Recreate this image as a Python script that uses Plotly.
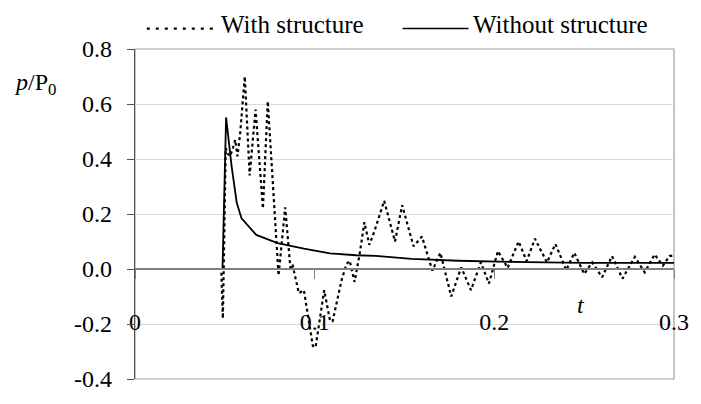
import plotly.graph_objects as go

# Pressure history p/P0 versus time t
t_with = [0.0, 0.048, 0.0489, 0.0505, 0.0515, 0.053, 0.0545, 0.0558, 0.057, 0.0585,
          0.0611, 0.0638, 0.0671, 0.0712, 0.0739, 0.0799, 0.0836, 0.0866, 0.0876,
          0.0912, 0.094, 0.099, 0.1005, 0.1053, 0.1086, 0.110, 0.115, 0.1177, 0.1195,
          0.1222, 0.125, 0.1277, 0.1304, 0.1332, 0.1387, 0.1447, 0.1487, 0.155, 0.1597,
          0.1655, 0.170, 0.176, 0.1816, 0.187, 0.1925, 0.197, 0.202, 0.2074, 0.2135,
          0.218, 0.2226, 0.2293, 0.234, 0.240, 0.2445, 0.250, 0.2545, 0.260, 0.2655,
          0.2713, 0.2782, 0.2837, 0.2892, 0.2938, 0.2975, 0.300]
p_with = [0.0, 0.0, -0.18, 0.44, 0.42, 0.41, 0.44, 0.47, 0.41, 0.49,
          0.70, 0.34, 0.58, 0.22, 0.61, -0.024, 0.224, -0.006, 0.018,
          -0.088, -0.077, -0.28, -0.285, -0.077, -0.19, -0.19, -0.04, 0.018, 0.03,
          -0.047, 0.053, 0.17, 0.088, 0.136, 0.248, 0.10, 0.232, 0.083, 0.118,
          -0.006, 0.059, -0.10, 0.006, -0.077, 0.024, -0.053, 0.065, 0.004, 0.10,
          0.029, 0.11, 0.024, 0.091, -0.004, 0.059, -0.018, 0.024, -0.03, 0.047,
          -0.035, 0.044, -0.012, 0.053, 0.012, 0.047, 0.05]

t_without = [0.0, 0.0487, 0.0507, 0.0538, 0.0566, 0.0593, 0.0675, 0.0794, 0.094,
             0.1085, 0.123, 0.134, 0.154, 0.18, 0.218, 0.25, 0.30]
p_without = [0.0, 0.0, 0.551, 0.372, 0.242, 0.184, 0.124, 0.094, 0.074,
             0.057, 0.050, 0.048, 0.037, 0.030, 0.025, 0.022, 0.022]

y_ticks = [-0.4, -0.2, 0.0, 0.2, 0.4, 0.6, 0.8]
y_tick_text = ["-0.4", "-0.2", "0.0", "0.2", "0.4", "0.6", "0.8"]
x_ticks = [0.0, 0.1, 0.2, 0.3]
x_tick_text = ["0", "0.1", "0.2", "0.3"]

names = ["With structure", "Without structure"]

FONT = "'Liberation Serif', Tinos, 'DejaVu Serif', 'Noto Serif', FreeSerif, serif"

fig = go.Figure()
fig.add_trace(go.Scatter(x=t_without, y=p_without, mode="lines", name=names[1],
                         line=dict(color="black", width=1.8), showlegend=False))
fig.add_trace(go.Scatter(x=t_with, y=p_with, mode="lines", name=names[0],
                         line=dict(color="black", width=2.2, dash="3px,3px"),
                         showlegend=False))

y_min, y_max = -0.4, 0.8
fig.update_layout(
    width=701, height=404,
    margin=dict(l=135, r=18, t=49, b=16),
    paper_bgcolor="white", plot_bgcolor="white",
    font=dict(family=FONT, size=24, color="black"),
    xaxis=dict(range=[0, 0.3], tickvals=x_ticks, ticktext=x_tick_text,
               anchor="free", position=(0 - y_min) / (y_max - y_min),
               showline=True, linecolor="#808080", linewidth=1.5,
               ticks="outside", ticklen=9, tickcolor="#808080",
               tickfont=dict(family=FONT, size=24),
               showgrid=False, zeroline=False, ticklabelstandoff=22),
    yaxis=dict(range=[y_min, y_max], tickvals=y_ticks, ticktext=y_tick_text,
               showline=True, linecolor="#505050", linewidth=1.2,
               ticks="outside", ticklen=7, tickcolor="#505050",
               tickfont=dict(family=FONT, size=24), ticklabelstandoff=10,
               showgrid=True, gridcolor="#d9d9d9", gridwidth=1,
               zeroline=False),
)

# plot-area frame
fig.add_shape(type="rect", xref="x domain", yref="y domain", x0=0, x1=1, y0=0, y1=1,
              line=dict(color="#a0a0a0", width=1.2), layer="below")

# legend drawn across the top
leg_y = 1.0 + (49 - 24) / 339
fig.add_shape(type="line", xref="paper", yref="paper",
              x0=(147 - 135) / 548, x1=(215 - 135) / 548, y0=leg_y - 0.012, y1=leg_y - 0.012,
              line=dict(color="black", width=2.2, dash="3px,6px"))
fig.add_annotation(xref="paper", yref="paper", x=(220 - 135) / 548, y=leg_y,
                   text=names[0], showarrow=False, xanchor="left", yanchor="middle",
                   font=dict(family=FONT, size=25))
fig.add_shape(type="line", xref="paper", yref="paper",
              x0=(407 - 135) / 548, x1=(474 - 135) / 548, y0=leg_y - 0.012, y1=leg_y - 0.012,
              line=dict(color="black", width=1.5))
fig.add_annotation(xref="paper", yref="paper", x=(477 - 135) / 548, y=leg_y,
                   text=names[1], showarrow=False, xanchor="left", yanchor="middle",
                   font=dict(family=FONT, size=25))

# axis titles
fig.add_annotation(xref="paper", yref="paper", x=(10 - 135) / 548, y=(388 - 85) / 339,
                   text="<i>p</i>/P<sub>0</sub>", showarrow=False,
                   xanchor="left", yanchor="middle", font=dict(family=FONT, size=24))
fig.add_annotation(xref="x", yref="y", x=0.248, y=-0.13, text="<i>t</i>",
                   showarrow=False, xanchor="center", yanchor="middle",
                   font=dict(family=FONT, size=24))

fig.write_html("out.html")
